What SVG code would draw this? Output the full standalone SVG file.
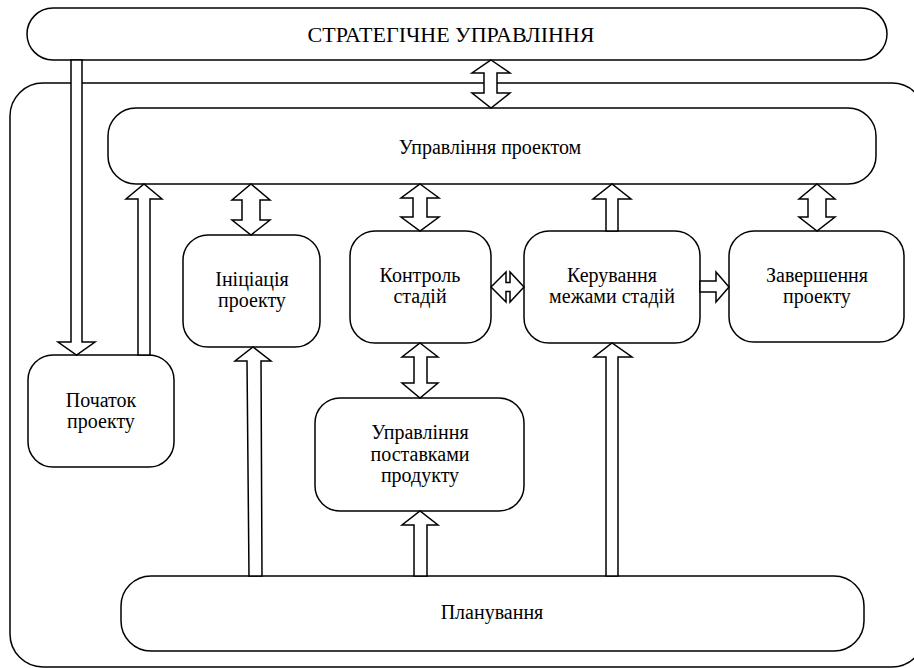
<svg xmlns="http://www.w3.org/2000/svg" width="914" height="668" viewBox="0 0 914 668">
<style>
.box{fill:#fff;stroke:#000;stroke-width:1.5}
.outer{fill:none;stroke:#000;stroke-width:1.5}
.arr{fill:#fff;stroke:#000;stroke-width:1.5;stroke-linejoin:miter}
.t{font-family:"Liberation Serif","Times New Roman",serif;font-size:20px;fill:#000;text-anchor:middle}
.big{font-size:22px}
</style>
<rect width="914" height="668" fill="#fff"/>
<g id="outer-frame"><rect class="outer" x="10" y="83" width="915" height="584" rx="33"/></g>
<g id="strategic"><rect class="box" x="27" y="8" width="860" height="52" rx="26"/><text class="t big" x="451" y="42">СТРАТЕГІЧНЕ УПРАВЛІННЯ</text></g>
<g id="project-mgmt"><rect class="box" x="108" y="108" width="768" height="76" rx="28"/><text class="t" x="490" y="154">Управління проектом</text></g>
<g id="initiation"><rect class="box" x="183" y="235" width="137" height="112" rx="25"/><text class="t" x="252" y="286">Ініціація</text><text class="t" x="252" y="307">проекту</text></g>
<g id="stage-control"><rect class="box" x="350" y="231" width="141" height="112" rx="25"/><text class="t" x="420" y="282">Контроль</text><text class="t" x="420" y="303">стадій</text></g>
<g id="stage-boundaries"><rect class="box" x="524" y="231" width="176" height="112" rx="25"/><text class="t" x="612" y="282">Керування</text><text class="t" x="612" y="303">межами стадій</text></g>
<g id="closing"><rect class="box" x="729" y="231" width="175" height="111" rx="25"/><text class="t" x="817" y="282">Завершення</text><text class="t" x="817" y="303">проекту</text></g>
<g id="start"><rect class="box" x="28" y="355" width="146" height="112" rx="25"/><text class="t" x="101" y="407">Початок</text><text class="t" x="101" y="428">проекту</text></g>
<g id="delivery"><rect class="box" x="315" y="398" width="209" height="113" rx="25"/><text class="t" x="420" y="439">Управління</text><text class="t" x="420" y="461">поставками</text><text class="t" x="420" y="482">продукту</text></g>
<g id="planning"><rect class="box" x="121" y="576" width="743" height="75" rx="30"/><text class="t" x="492" y="619">Планування</text></g>
<g id="connectors">
<polygon class="arr" points="71,60 82,60 82,342 95,342 76.5,355 58,342 71,342"/>
<polygon class="arr" points="491,60 510,73 497,73 497,93 510,93 491,108 472,93 484,93 484,73 472,73"/>
<polygon class="arr" points="138,355 138,199 126,199 144,184 162,199 150,199 150,355"/>
<polygon class="arr" points="251,184 270,200 260,200 260,220 270,220 251,235 232,220 242,220 242,200 232,200"/>
<polygon class="arr" points="420,184 439,198 427,198 427,217 439,217 420,231 401,217 413,217 413,198 401,198"/>
<polygon class="arr" points="606,231 606,199 593,199 612,184 631,199 618,199 618,231"/>
<polygon class="arr" points="817,184 835,199 826,199 826,217 835,217 817,231 799,217 808,217 808,199 799,199"/>
<polygon class="arr" points="491,287 506,272 506,282.5 510,282.5 510,272 524,287 510,302 510,291.5 506,291.5 506,302"/>
<polygon class="arr" points="700,281 716,281 716,272 729,287 716,302 716,292 700,292"/>
<polygon class="arr" points="420,343 438,357 427,357 427,383 438,383 420,398 402,383 414,383 414,357 402,357"/>
<polygon class="arr" points="414,576 414,525 402,525 420,511 438,525 427,525 427,576"/>
<polygon class="arr" points="606,576 606,357 594,357 612,343 632,357 618,357 618,576"/>
<polygon class="arr" points="249,576 247,361 235,361 253,347 271,361 261,361 262,576"/>
</g>
</svg>
